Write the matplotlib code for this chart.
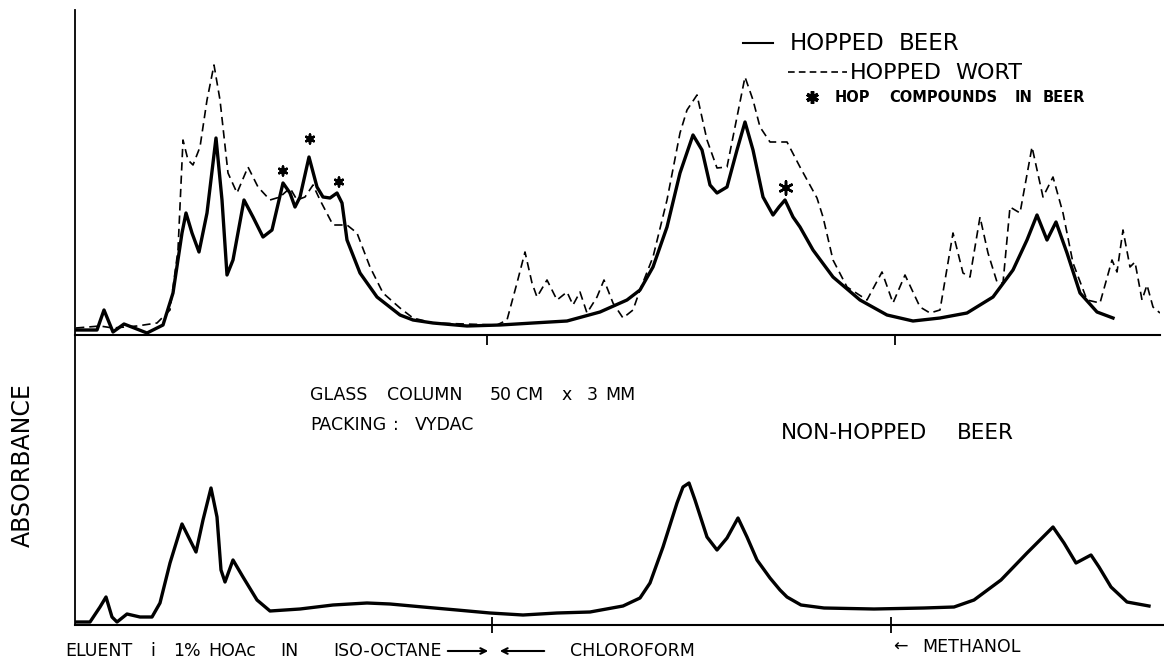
import matplotlib
matplotlib.use('Agg')
import matplotlib.pyplot as plt
from matplotlib.lines import Line2D

# retention axis in arbitrary chart units, absorbance in arbitrary units
beer_t = [1, 22, 29, 38, 49, 72, 88, 98, 107, 111, 117, 124, 132, 141, 147, 152, 158, 169, 178,
          188, 197, 208, 215, 220, 225, 234, 242, 248, 255, 262, 267, 272, 285, 302, 325, 338,
          358, 392, 425, 458, 492, 525, 552, 565, 578, 592, 605, 618, 627, 635, 642, 652, 662,
          670, 678, 688, 698, 704, 710, 718, 725, 738, 758, 785, 812, 838, 865, 892, 918, 938,
          952, 962, 972, 981, 992, 1005, 1022, 1038]
beer_abs = [5, 5, 25, 3, 11, 2, 10, 42, 102, 122, 102, 83, 122, 197, 135, 60, 75, 135, 118,
            98, 105, 152, 142, 128, 138, 178, 148, 138, 137, 142, 132, 95, 62, 38, 20, 15,
            12, 9, 10, 12, 14, 23, 35, 45, 68, 108, 162, 200, 185, 150, 142, 148, 185,
            213, 185, 138, 120, 128, 135, 118, 108, 85, 58, 35, 20, 14, 17, 22, 38, 65,
            95, 120, 95, 113, 82, 42, 23, 17]

wort_t = [1, 25, 38, 62, 82, 95, 103, 108, 113, 118, 125, 132, 139, 145, 153, 162, 173, 183,
          195, 205, 215, 222, 230, 238, 245, 258, 272, 282, 295, 308, 325, 338, 358, 422, 432,
          442, 450, 457, 462, 472, 482, 492, 498, 505, 512, 522, 529, 538, 548, 558, 565, 578,
          592, 605, 612, 622, 632, 642, 652, 662, 670, 678, 685, 695, 712, 725, 742, 748, 758,
          772, 792, 807, 818, 830, 845, 855, 865, 878, 888, 895, 905, 913, 922, 928, 935, 945,
          957, 968, 978, 988, 998, 1012, 1025, 1037, 1042, 1048, 1055, 1060, 1067, 1072, 1078,
          1085]
wort_abs = [7, 9, 7, 9, 12, 25, 85, 195, 175, 170, 188, 235, 270, 235, 162, 142, 168, 148,
            135, 138, 147, 135, 138, 150, 135, 110, 110, 102, 68, 42, 27, 17, 12, 10, 15,
            52, 83, 52, 38, 55, 35, 43, 30, 43, 22, 38, 55, 32, 17, 25, 45, 78,
            135, 202, 225, 240, 195, 167, 168, 218, 258, 235, 208, 193, 193, 168, 137, 118, 75,
            48, 35, 63, 32, 60, 28, 22, 25, 102, 62, 58, 118, 82, 53, 52, 128, 122,
            188, 138, 158, 122, 72, 35, 32, 75, 63, 105, 68, 73, 35, 50, 28,
            22]

# hop compounds found in beer (asterisks)
hop_t = [208, 235, 264, 711]
hop_abs = [164, 196, 153, 147]
hop_size = [40, 40, 40, 90]

nonhop_t = [1, 15, 25, 31, 37, 42, 52, 65, 77, 85, 95, 107, 115, 121, 128, 136, 142, 146, 150,
            158, 168, 182, 195, 225, 258, 292, 315, 348, 382, 415, 448, 482, 515, 548, 565,
            575, 588, 602, 608, 614, 620, 632, 642, 652, 663, 672, 682, 695, 705, 712, 726,
            749, 799, 849, 879, 899, 926, 952, 978, 989, 1001, 1016, 1024, 1036, 1052, 1074]
nonhop_abs = [3, 3, 18, 28, 8, 3, 11, 8, 8, 22, 62, 101, 85, 73, 105, 137, 108, 55, 43,
              65, 48, 25, 14, 16, 20, 22, 21, 18, 15, 12, 10, 12, 13, 19, 27,
              42, 78, 122, 138, 142, 125, 88, 75, 87, 107, 88, 65, 47, 35, 28, 20,
              17, 16, 17, 18, 25, 45, 72, 98, 82, 62, 70, 58, 38, 23, 19]

# solvent change marks
solvent_top = [412, 820]
solvent_bottom = [417, 816]

W, H = 1164, 659
fig = plt.figure(figsize=(W / 100, H / 100), dpi=100)


def fx(px):
    return px / W


def fy(py):
    return 1 - py / H


def words(items, py, size, **kw):
    # lettering-guide text: each word placed on its own
    for txt, px in items:
        fig.text(fx(px), fy(py), txt, fontsize=size, ha='left', va='center', **kw)


ax1 = fig.add_axes([fx(75), fy(335), fx(1085), 325 / H])
ax2 = fig.add_axes([fx(75), fy(625), fx(1089), 290 / H])

for ax in (ax1, ax2):
    for s in ('top', 'right'):
        ax.spines[s].set_visible(False)
    ax.spines['left'].set_linewidth(1.3)
    ax.spines['bottom'].set_linewidth(1.5)
    ax.set_yticks([])
    ax.patch.set_alpha(0)

ax1.set_xlim(0, 1085)
ax1.set_ylim(0, 325)
ax2.set_xlim(0, 1089)
ax2.set_ylim(0, 290)

ax1.set_xticks(solvent_top)
ax1.set_xticklabels([])
ax1.tick_params(axis='x', direction='out', length=7, width=1.3)
ax2.set_xticks(solvent_bottom)
ax2.set_xticklabels([])
ax2.tick_params(axis='x', direction='inout', length=12, width=1.3)

ax1.plot(wort_t, wort_abs, color='black', linewidth=1.2, dashes=(5, 3))
ax1.plot(beer_t, beer_abs, color='black', linewidth=2.4, solid_joinstyle='round')
ax1.scatter(hop_t, hop_abs, s=hop_size, marker=(6, 2, 0), color='black', linewidths=1.8)
ax2.plot(nonhop_t, nonhop_abs, color='black', linewidth=2.4, solid_joinstyle='round')

# legend drawn by hand, rows are staggered as in the original
fig.add_artist(Line2D([fx(743), fx(773)], [fy(43), fy(43)], color='black', linewidth=1.5))
fig.add_artist(Line2D([fx(788), fx(847)], [fy(72), fy(72)], color='black', linewidth=1.2,
                      dashes=(4, 2.5)))
fig.add_artist(Line2D([fx(812)], [fy(97)], color='black', marker=(6, 2, 0), markersize=9,
                      markeredgewidth=2.5, linestyle='none'))
words([("HOPPED", 790), ("BEER", 899)], 43, 16.5)
words([("HOPPED", 850), ("WORT", 955)], 73, 16)
words([("HOP", 835), ("COMPOUNDS", 889), ("IN", 1015), ("BEER", 1043)], 97, 10.5,
      fontweight='bold')

words([("GLASS", 310), ("COLUMN", 387), ("50", 490), ("CM", 516), ("x", 562), ("3", 587),
       ("MM", 605)], 395, 12.5)
words([("PACKING", 310), (":", 393), ("VYDAC", 415)], 425, 12.5)
words([("NON-HOPPED", 781), ("BEER", 957)], 433, 15.5)

fig.text(fx(23), fy(465), "ABSORBANCE", fontsize=17, rotation=90, ha='center', va='center')

words([("ELUENT", 65), ("i", 150), ("1%", 173), ("HOAc", 208), ("IN", 280),
       ("ISO-OCTANE", 333), ("CHLOROFORM", 570)], 651, 12.5)
words([("\u2190", 893), ("METHANOL", 922)], 647, 12.5)
ax2.annotate('', xy=(491, H - 651), xytext=(445, H - 651), xycoords='figure pixels',
             textcoords='figure pixels', annotation_clip=False,
             arrowprops=dict(arrowstyle='->', lw=1.5, color='black'))
ax2.annotate('', xy=(497, H - 651), xytext=(547, H - 651), xycoords='figure pixels',
             textcoords='figure pixels', annotation_clip=False,
             arrowprops=dict(arrowstyle='->', lw=1.5, color='black'))

fig.savefig('out.png', dpi=100)
